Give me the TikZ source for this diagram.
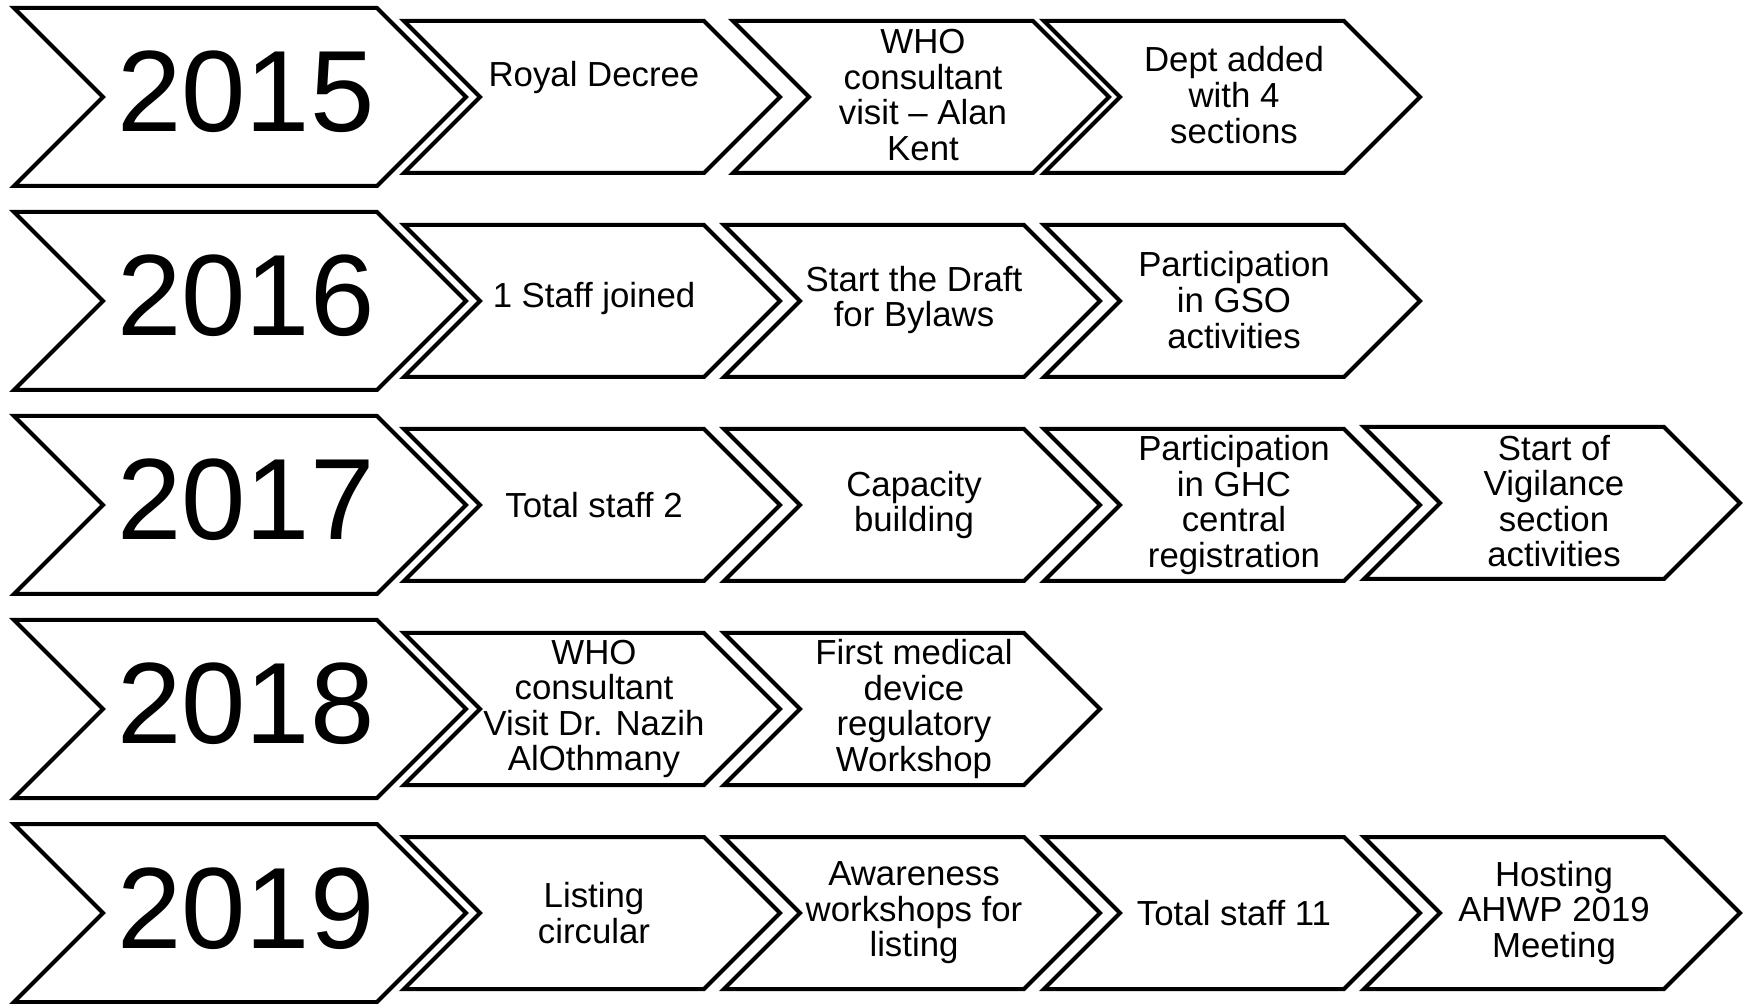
\documentclass[tikz,border=0pt]{standalone}
\usepackage{fontspec}
\setmainfont{Liberation Sans}

\tikzset{every picture/.style={line width=2pt}}
\tikzset{
  yearchev/.style={draw=black, line join=miter, fill=white},
  eventchev/.style={draw=black, line join=miter, fill=white},
  yeartext/.style={font=\fontsize{57.8}{60}\selectfont, inner sep=0pt, anchor=base},
  eventtext/.style={font=\fontsize{17.4}{17.8}\selectfont, align=center, inner sep=0pt}
}

\begin{document}
\begin{tikzpicture}[x=0.5pt,y=0.5pt,yscale=-1,xscale=1]
\useasboundingbox (0,0) rectangle (1745,1004);

%Shape: Chevron 2015
\draw [yearchev] (14,8) -- (377,8) -- (466,97) -- (377,186) -- (14,186) -- (103,97) -- cycle ;
%Shape: Chevron 2016
\draw [yearchev] (14,212) -- (377,212) -- (466,301) -- (377,390) -- (14,390) -- (103,301) -- cycle ;
%Shape: Chevron 2017
\draw [yearchev] (14,416) -- (377,416) -- (466,505) -- (377,594) -- (14,594) -- (103,505) -- cycle ;
%Shape: Chevron 2018
\draw [yearchev] (14,620) -- (377,620) -- (466,709) -- (377,798) -- (14,798) -- (103,709) -- cycle ;
%Shape: Chevron 2019
\draw [yearchev] (14,824) -- (377,824) -- (466,913) -- (377,1002) -- (14,1002) -- (103,913) -- cycle ;

%Shape: Chevron row 2015
\draw [eventchev] (404,21) -- (704,21) -- (780,97) -- (704,173) -- (404,173) -- (480,97) -- cycle ;
\draw [eventchev] (733,21) -- (1033,21) -- (1109,97) -- (1033,173) -- (733,173) -- (809,97) -- cycle ;
\draw [eventchev] (1044,21) -- (1344,21) -- (1420,97) -- (1344,173) -- (1044,173) -- (1120,97) -- cycle ;
%Shape: Chevron row 2016
\draw [eventchev] (404,225) -- (704,225) -- (780,301) -- (704,377) -- (404,377) -- (480,301) -- cycle ;
\draw [eventchev] (724,225) -- (1024,225) -- (1100,301) -- (1024,377) -- (724,377) -- (800,301) -- cycle ;
\draw [eventchev] (1044,225) -- (1344,225) -- (1420,301) -- (1344,377) -- (1044,377) -- (1120,301) -- cycle ;
%Shape: Chevron row 2017
\draw [eventchev] (404,429) -- (704,429) -- (780,505) -- (704,581) -- (404,581) -- (480,505) -- cycle ;
\draw [eventchev] (724,429) -- (1024,429) -- (1100,505) -- (1024,581) -- (724,581) -- (800,505) -- cycle ;
\draw [eventchev] (1044,429) -- (1344,429) -- (1420,505) -- (1344,581) -- (1044,581) -- (1120,505) -- cycle ;
\draw [eventchev] (1364,427) -- (1664,427) -- (1740,503) -- (1664,579) -- (1364,579) -- (1440,503) -- cycle ;
%Shape: Chevron row 2018
\draw [eventchev] (404,633) -- (704,633) -- (780,709) -- (704,785) -- (404,785) -- (480,709) -- cycle ;
\draw [eventchev] (724,633) -- (1024,633) -- (1100,709) -- (1024,785) -- (724,785) -- (800,709) -- cycle ;
%Shape: Chevron row 2019
\draw [eventchev] (404,837) -- (704,837) -- (780,913) -- (704,989) -- (404,989) -- (480,913) -- cycle ;
\draw [eventchev] (724,837) -- (1024,837) -- (1100,913) -- (1024,989) -- (724,989) -- (800,913) -- cycle ;
\draw [eventchev] (1044,837) -- (1344,837) -- (1420,913) -- (1344,989) -- (1044,989) -- (1120,913) -- cycle ;
\draw [eventchev] (1364,837) -- (1664,837) -- (1740,913) -- (1664,989) -- (1364,989) -- (1440,913) -- cycle ;

% Text Node
\node [yeartext] (y2015) at (246,132) {2015};
\node [yeartext] (y2016) at (246,336) {2016};
\node [yeartext] (y2017) at (246,540) {2017};
\node [yeartext] (y2018) at (246,744) {2018};
\node [yeartext] (y2019) at (246,948) {2019};

% Text Node
\node [eventtext] (royal) at (594,78) {Royal Decree};
\node [eventtext] (whokent) at (923,95) {WHO\\consultant\\visit – Alan\\Kent};
\node [eventtext] (dept) at (1234,95) {Dept added\\with 4\\sections};
% Text Node
\node [eventtext] (staffone) at (594,299) {1 Staff joined};
\node [eventtext] (bylaws) at (914,300) {Start the Draft\\for Bylaws};
\node [eventtext] (gso) at (1234,300) {Participation\\in GSO\\activities};
% Text Node
\node [eventtext] (stafftwo) at (594,505) {Total staff 2};
\node [eventtext] (capacity) at (914,505) {Capacity\\building};
\node [eventtext] (ghc) at (1234,505) {Participation\\in GHC\\central\\registration};
\node [eventtext] (vigilance) at (1554,501) {Start of\\Vigilance\\section\\activities};
% Text Node
\node [eventtext] (whonazih) at (594,709) {WHO\\consultant\\Visit Dr. Nazih\\AlOthmany};
\node [eventtext] (workshop) at (914,709) {First medical\\device\\regulatory\\Workshop};
% Text Node
\node [eventtext] (listing) at (594,913) {Listing\\circular};
\node [eventtext] (awareness) at (914,913) {Awareness\\workshops for\\listing};
\node [eventtext] (staffeleven) at (1234,913) {Total staff 11};
\node [eventtext] (ahwp) at (1554,913) {Hosting\\AHWP 2019\\Meeting};

\end{tikzpicture}
\end{document}
